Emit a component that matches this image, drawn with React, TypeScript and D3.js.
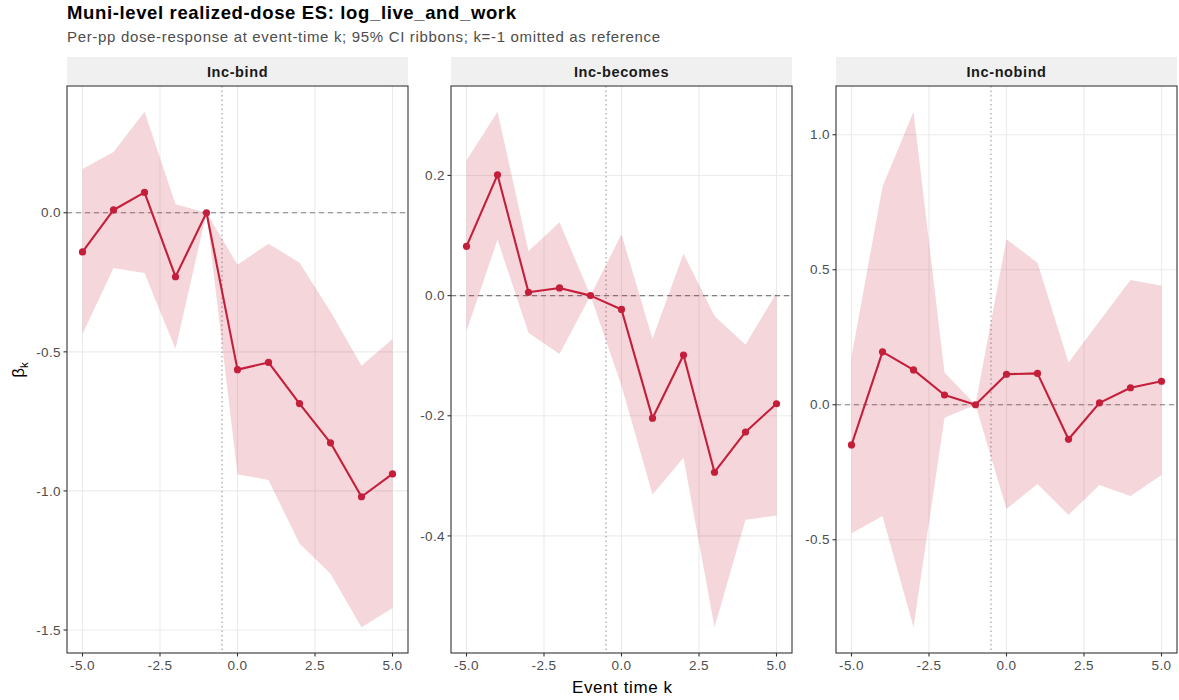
import React from "react";
import * as d3 from "d3";

const facets = ["Inc-bind", "Inc-becomes", "Inc-nobind"];
const eventTimes = [-5, -4, -3, -2, -1, 0, 1, 2, 3, 4, 5];

const bindEst = [-0.141, 0.010, 0.073, -0.230, 0, -0.564, -0.538, -0.686, -0.827, -1.021, -0.939];
const bindLo = [-0.436, -0.199, -0.217, -0.490, 0, -0.940, -0.961, -1.189, -1.298, -1.490, -1.421];
const bindHi = [0.157, 0.218, 0.363, 0.031, 0, -0.187, -0.111, -0.180, -0.355, -0.550, -0.454];

const becomesEst = [0.082, 0.201, 0.0055, 0.0128, 0, -0.023, -0.204, -0.099, -0.294, -0.227, -0.180];
const becomesLo = [-0.059, 0.093, -0.062, -0.097, 0, -0.150, -0.331, -0.270, -0.552, -0.373, -0.366];
const becomesHi = [0.225, 0.306, 0.074, 0.122, 0, 0.102, -0.072, 0.070, -0.034, -0.082, 0.0045];

const nobindEst = [-0.149, 0.196, 0.129, 0.036, 0, 0.113, 0.116, -0.128, 0.007, 0.063, 0.087];
const nobindLo = [-0.476, -0.412, -0.824, -0.048, 0, -0.386, -0.294, -0.408, -0.297, -0.338, -0.260];
const nobindHi = [0.178, 0.807, 1.085, 0.119, 0, 0.613, 0.526, 0.156, 0.309, 0.462, 0.441];

const xTicks = [-5, -2.5, 0, 2.5, 5];
const bindYTicks = [-1.5, -1.0, -0.5, 0.0];
const becomesYTicks = [-0.4, -0.2, 0.0, 0.2];
const nobindYTicks = [-0.5, 0.0, 0.5, 1.0];

const titleText = "Muni-level realized-dose ES: log_live_and_work";
const subtitleText = "Per-pp dose-response at event-time k; 95% CI ribbons; k=-1 omitted as reference";
const xLabel = "Event time k";

const panelData = [
  { name: facets[0], est: bindEst, lo: bindLo, hi: bindHi, yTicks: bindYTicks },
  { name: facets[1], est: becomesEst, lo: becomesLo, hi: becomesHi, yTicks: becomesYTicks },
  { name: facets[2], est: nobindEst, lo: nobindLo, hi: nobindHi, yTicks: nobindYTicks },
];

const FONT = "'Liberation Sans', Arial, Helvetica, sans-serif";
const RED = "#C41E3A";

const panelLefts = [67, 451, 836];
const panelW = 341;
const plotTop = 86;
const plotBottom = 653;
const stripTop = 57;

function Panel({ p, left }: { p: any; left: number }) {
  const x = d3.scaleLinear().domain([-5.5, 5.5]).range([left, left + panelW]);
  const lo = d3.min(p.lo as number[])!;
  const hi = d3.max(p.hi as number[])!;
  const span = hi - lo;
  const y = d3
    .scaleLinear()
    .domain([lo - span * 0.05, hi + span * 0.05])
    .range([plotBottom, plotTop]);
  const rows = eventTimes.map((k, i) => ({ k, est: p.est[i], lo: p.lo[i], hi: p.hi[i] }));
  const area = d3
    .area<any>()
    .x((d) => x(d.k))
    .y0((d) => y(d.lo))
    .y1((d) => y(d.hi));
  const line = d3
    .line<any>()
    .x((d) => x(d.k))
    .y((d) => y(d.est));
  return (
    <g>
      <rect x={left} y={stripTop} width={panelW} height={plotTop - stripTop - 1} fill="#f0f0f0" />
      <text
        x={left + panelW / 2}
        y={(stripTop + plotTop) / 2 + 5}
        textAnchor="middle"
        fontFamily={FONT}
        fontWeight="bold"
        fontSize={14.5}
        letterSpacing={0.6}
        fill="#1a1a1a"
      >
        {p.name}
      </text>
      {xTicks.map((t) => (
        <line key={"gx" + t} x1={x(t)} x2={x(t)} y1={plotTop} y2={plotBottom} stroke="#ebebeb" strokeWidth={1.1} />
      ))}
      {p.yTicks.map((t: number) => (
        <line key={"gy" + t} x1={left} x2={left + panelW} y1={y(t)} y2={y(t)} stroke="#ebebeb" strokeWidth={1.1} />
      ))}
      <line x1={left} x2={left + panelW} y1={y(0)} y2={y(0)} stroke="#808080" strokeWidth={1.1} strokeDasharray="5,4" />
      <line x1={x(-0.5)} x2={x(-0.5)} y1={plotTop} y2={plotBottom} stroke="#8c8c8c" strokeWidth={1} strokeDasharray="1.5,3" />
      <path d={area(rows)!} fill={RED} fillOpacity={0.18} />
      <path d={line(rows)!} fill="none" stroke={RED} strokeWidth={2.1} strokeLinejoin="round" />
      {rows.map((d) => (
        <circle key={"pt" + d.k} cx={x(d.k)} cy={y(d.est)} r={3.6} fill={RED} />
      ))}
      <rect x={left} y={plotTop} width={panelW} height={plotBottom - plotTop} fill="none" stroke="#333333" strokeWidth={1.1} />
      {p.yTicks.map((t: number) => (
        <g key={"ty" + t}>
          <line x1={left - 3.5} x2={left} y1={y(t)} y2={y(t)} stroke="#333333" strokeWidth={1.1} />
          <text x={left - 6} y={y(t) + 4.7} textAnchor="end" fontFamily={FONT} fontSize={13.5} letterSpacing={0.4} fill="#4d4d4d">
            {t.toFixed(1)}
          </text>
        </g>
      ))}
      {xTicks.map((t) => (
        <g key={"tx" + t}>
          <line x1={x(t)} x2={x(t)} y1={plotBottom} y2={plotBottom + 3.5} stroke="#333333" strokeWidth={1.1} />
          <text x={x(t)} y={plotBottom + 17} textAnchor="middle" fontFamily={FONT} fontSize={13.5} letterSpacing={0.4} fill="#4d4d4d">
            {t.toFixed(1)}
          </text>
        </g>
      ))}
    </g>
  );
}

export default function App() {
  return (
    <svg width={1179} height={700} style={{ position: "absolute", left: 0, top: 0, background: "#fff" }}>
      <rect x={0} y={0} width={1179} height={700} fill="#ffffff" />
      <text x={67} y={19} fontFamily={FONT} fontWeight="bold" fontSize={18.5} textLength={449} lengthAdjust="spacing" fill="#000">
        {titleText}
      </text>
      <text x={67} y={42} fontFamily={FONT} fontSize={15} textLength={593} lengthAdjust="spacing" fill="#4d4d4d">
        {subtitleText}
      </text>
      {panelData.map((p, i) => (
        <Panel key={p.name} p={p} left={panelLefts[i]} />
      ))}
      <text x={572} y={693} fontFamily={FONT} fontSize={17} textLength={100} lengthAdjust="spacing" fill="#000">
        {xLabel}
      </text>
      <text transform="translate(24,370) rotate(-90)" textAnchor="middle" fontFamily={FONT} fontSize={17} fill="#000">
        β<tspan fontSize={11.5} dy={4}>k</tspan>
      </text>
    </svg>
  );
}
